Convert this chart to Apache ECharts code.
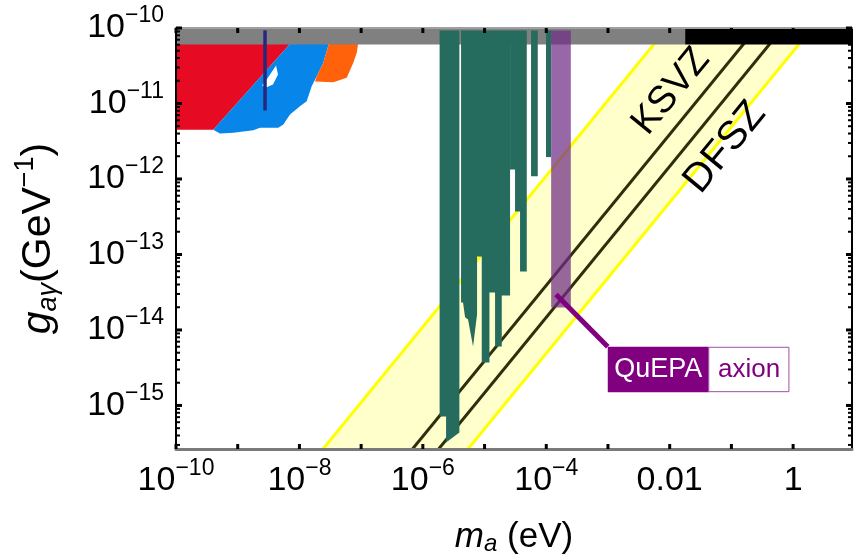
<!DOCTYPE html>
<html><head><meta charset="utf-8">
<script src="https://cdn.jsdelivr.net/npm/echarts@6/dist/echarts.min.js"></script>
<style>html,body{margin:0;padding:0;background:#fff}#c{width:856px;height:557px}</style>
</head><body><div id="c"></div>
<script>
// ---- axes (axion mass m_a in eV, coupling g_aγ in GeV^-1) ----
const xMin = 1e-10, xMax = 9;
const yMin = 2.65e-16, yMax = 1e-10;
const xTickValues = [1e-10,1e-9,1e-8,1e-7,1e-6,1e-5,1e-4,1e-3,1e-2,1e-1,1];
const xLabelValues = [1e-10,1e-8,1e-6,1e-4,1e-2,1];
const xLabelBase = ['10','10','10','10','0.01','1'];
const xLabelSup  = ['−10','−8','−6','−4','',''];
const yLabelValues = [1e-15,1e-14,1e-13,1e-12,1e-11,1e-10];
const yLabelSup = ['−15','−14','−13','−12','−11','−10'];
const yMinorTicks = [];
for (let e = -16; e <= -11; e++) for (let k = 2; k <= 9; k++) {
  const v = k * Math.pow(10, e); if (v > yMin && v < yMax) yMinorTicks.push(v);
}

// ---- excluded regions [m_a, g] ----
const redRegion = [[1e-10,6.5e-11],[7.5e-9,6.5e-11],[4.02e-10,4.5e-12],[1e-10,4.5e-12]];
const blueRegion = [[7.5e-9,6.5e-11],[3.05e-8,6.5e-11],[2.44e-8,3.46e-11],[1.91e-8,2.30e-11],[1.58e-8,1.69e-11],
  [1.31e-8,1.07e-11],[1.02e-8,9.21e-12],[7.04e-9,7.15e-12],[5.48e-9,5.27e-12],[4.55e-9,4.76e-12],
  [2.30e-9,4.76e-12],[1.79e-9,4.43e-12],[8.49e-10,4.09e-12],[5.16e-10,4.01e-12],[4.02e-10,4.5e-12]];
const blueHole = [[4.18e-9,3.19e-11],[4.50e-9,2.42e-11],[3.73e-9,1.79e-11],[2.88e-9,1.63e-11],[2.48e-9,1.73e-11],[3.10e-9,2.21e-11]];
const orangeRegion = [[3.05e-8,6.5e-11],[9.01e-8,6.5e-11],[8.49e-8,4.69e-11],[7.47e-8,3.46e-11],[5.84e-8,2.19e-11],
  [3.54e-8,1.91e-11],[1.79e-8,1.96e-11],[1.91e-8,2.30e-11],[2.44e-8,3.46e-11]];
const navyLine = [[2.77e-9,9.3e-11],[2.77e-9,8.07e-12]];
const grayBand = [[1e-10,6.05e-11],[0.0178,6.05e-11],[0.0178,1e-10],[1e-10,1e-10]];
const blackBand = [[0.0178,6.05e-11],[9,6.05e-11],[9,1e-10],[0.0178,1e-10]];
const haloA = [[1.87e-6,9.3e-11],[3.91e-6,9.3e-11],[3.91e-6,4.39e-16],[2.38e-6,3.24e-16],[2.38e-6,7.15e-16],[1.87e-6,7.15e-16]];
const haloB = [[4.16e-6,9.3e-11],[2.59e-5,9.3e-11],[2.59e-5,2.86e-14],[1.90e-5,2.86e-14],[1.90e-5,6.04e-15],[1.48e-5,6.04e-15],
  [1.48e-5,3.14e-14],[1.20e-5,3.14e-14],[1.20e-5,3.72e-15],[9.01e-6,3.72e-15],[9.01e-6,9.41e-14],[7.56e-6,9.41e-14],
  [7.56e-6,1.60e-14],[6.51e-6,6.04e-15],[5.40e-6,1.38e-14],[4.83e-6,1.47e-14],[4.48e-6,2.31e-14],[4.16e-6,2.31e-14]];
const haloC = [[2.59e-5,9.3e-11],[4.83e-5,9.3e-11],[4.83e-5,5.96e-14],[3.76e-5,5.96e-14],[3.76e-5,3.72e-13],
  [3.12e-5,3.72e-13],[3.12e-5,1.34e-12],[2.59e-5,1.34e-12]];
const haloD = [[5.67e-5,9.3e-11],[7.28e-5,9.3e-11],[7.28e-5,1.09e-12],[5.67e-5,1.09e-12]];
const haloE = [[9.9e-5,9.3e-11],[1.20e-4,9.3e-11],[1.20e-4,1.95e-12],[9.9e-5,1.95e-12]];
const quepaRegion = [[1.2e-4,9.3e-11],[2.5e-4,9.3e-11],[2.5e-4,1.99e-14],[1.2e-4,1.99e-14]];
const quepaLeader = [[1.44e-4,2.95e-14],[9.92e-4,5.99e-15]];
const quepaBoxX = [9.92e-4, 0.043, 0.871];
const quepaBoxY = [5.99e-15, 1.50e-15];

// ---- QCD axion band and model lines ----
const bandUpper = [[1e-10,1.1e-18],[10,1.1e-7]];
const bandLower = [[1e-10,4.9e-21],[10,4.9e-10]];
const ksvzLine = [[1e-10,3.9e-20],[10,3.9e-9]];
const dfszLine = [[1e-10,1.47e-20],[10,1.47e-9]];
const ksvzLabelAt = [0.01054, 1.44e-11];
const dfszLabelAt = [0.079, 2.61e-12];

const FONT = 'Liberation Sans';

function shapeSeries(pts, kind, style, z) {
  return {
    type: 'custom', coordinateSystem: 'cartesian2d', clip: true, silent: true, z: z,
    animation: false, data: [pts[0]],
    renderItem: function (params, api) {
      return { type: kind, shape: { points: pts.map(function (p) { return api.coord(p); }) }, style: style };
    }
  };
}
function textSeries(at, along, text, size, z) {
  return {
    type: 'custom', coordinateSystem: 'cartesian2d', clip: false, silent: true, z: z,
    animation: false, data: [at],
    renderItem: function (params, api) {
      const c = api.coord(at), a = api.coord(along[0]), b = api.coord(along[1]);
      const rot = -Math.atan2(b[1] - a[1], b[0] - a[0]);
      return { type: 'text', x: c[0], y: c[1], rotation: rot,
        style: { text: text, fontSize: size, fontFamily: FONT, fill: '#000', align: 'center', verticalAlign: 'middle' } };
    }
  };
}
function boxSeries(z) {
  return {
    type: 'custom', coordinateSystem: 'cartesian2d', clip: false, silent: true, z: z,
    animation: false, data: [[quepaBoxX[0], quepaBoxY[0]]],
    renderItem: function (params, api) {
      const a = api.coord([quepaBoxX[0], quepaBoxY[0]]);
      const b = api.coord([quepaBoxX[1], quepaBoxY[1]]);
      const c = api.coord([quepaBoxX[2], quepaBoxY[1]]);
      const h = b[1] - a[1];
      return { type: 'group', children: [
        { type: 'rect', shape: { x: a[0], y: a[1], width: b[0] - a[0], height: h }, style: { fill: '#800080' } },
        { type: 'rect', shape: { x: b[0], y: a[1] + 0.5, width: c[0] - b[0] - 0.5, height: h - 1 }, style: { fill: '#fff', stroke: '#a050a8', lineWidth: 1 } },
        { type: 'text', x: (a[0] + b[0]) / 2, y: a[1] + h / 2, style: { text: 'QuEPA', fill: '#fff', fontSize: 27, fontFamily: FONT, align: 'center', verticalAlign: 'middle' } },
        { type: 'text', x: (b[0] + c[0]) / 2, y: a[1] + h / 2, style: { text: 'axion', fill: '#800080', fontSize: 26, fontFamily: FONT, align: 'center', verticalAlign: 'middle' } }
      ] };
    }
  };
}
// frame ticks, placed through the axes' own scales
function tickSeries(z) {
  return {
    type: 'custom', coordinateSystem: 'cartesian2d', clip: false, silent: true, z: z,
    animation: false, data: [[xMin, yMin]],
    renderItem: function (params, api) {
      const lo = api.coord([xMin, yMin]), hi = api.coord([xMax, yMax]);
      const kids = [];
      function seg(x1, y1, x2, y2, w) {
        kids.push({ type: 'line', shape: { x1: x1, y1: y1, x2: x2, y2: y2 }, style: { stroke: '#000', lineWidth: w } });
      }
      yLabelValues.forEach(function (v) {
        const y = api.coord([xMin, v])[1];
        seg(lo[0], y, lo[0] + 6, y, 3); seg(hi[0], y, hi[0] - 6, y, 3);
      });
      yMinorTicks.forEach(function (v) {
        const y = api.coord([xMin, v])[1];
        seg(lo[0], y, lo[0] + 4, y, 2); seg(hi[0], y, hi[0] - 4, y, 2);
      });
      xTickValues.forEach(function (v) {
        const x = api.coord([v, yMin])[0];
        seg(x, lo[1], x, lo[1] - 5, 3); seg(x, hi[1], x, hi[1] + 5, 3);
      });
      return { type: 'group', children: kids };
    }
  };
}

function idxOf(vals, v) {
  let best = 0, d = Infinity;
  vals.forEach(function (w, i) { const dd = Math.abs(Math.log10(w) - Math.log10(v)); if (dd < d) { d = dd; best = i; } });
  return best;
}
const richTick = {
  b: { fontSize: 34, fontFamily: FONT, color: '#000', lineHeight: 35 },
  s: { fontSize: 23, fontFamily: FONT, color: '#000', lineHeight: 23, padding: [0, 0, 24, 0], verticalAlign: 'middle' }
};

const chart = echarts.init(document.getElementById('c'), null, { renderer: 'canvas' });

chart.setOption({
  animation: false,
  backgroundColor: '#fff',
  grid: { left: 176, right: 4, top: 28, bottom: 108, containLabel: false, outerBoundsMode: 'none' },
  xAxis: [
    { type: 'log', logBase: 10, min: xMin, max: xMax, position: 'bottom', z: 10,
      axisLine: { show: true, lineStyle: { color: '#7a7a7a', width: 3 } },
      axisTick: { show: false }, splitLine: { show: false }, minorTick: { show: false },
      axisLabel: { customValues: xLabelValues, margin: 14, rich: richTick,
        formatter: function (v) { const i = idxOf(xLabelValues, v); return '{b|' + xLabelBase[i] + '}' + (xLabelSup[i] ? '{s|' + xLabelSup[i] + '}' : ''); } },
      name: '{i|m}{sub|a}{n| (eV)}', nameLocation: 'middle', nameGap: 70,
      nameTextStyle: { rich: {
        i: { fontSize: 35, fontFamily: FONT, fontStyle: 'italic', color: '#000', lineHeight: 36 },
        sub: { fontSize: 24, fontFamily: FONT, fontStyle: 'italic', color: '#000', lineHeight: 24, padding: [14, 0, 0, 0], verticalAlign: 'middle' },
        n: { fontSize: 35, fontFamily: FONT, color: '#000', lineHeight: 36 } } }
    },
    { type: 'log', logBase: 10, min: xMin, max: xMax, position: 'top', z: 10,
      axisLine: { show: true, lineStyle: { color: '#a0a0a0', width: 2 } },
      axisTick: { show: false }, axisLabel: { show: false }, splitLine: { show: false } }
  ],
  yAxis: [
    { type: 'log', logBase: 10, min: yMin, max: yMax, position: 'left', z: 10,
      axisLine: { show: true, lineStyle: { color: '#000', width: 2 } },
      axisTick: { show: false }, splitLine: { show: false },
      axisLabel: { customValues: yLabelValues, margin: 12, rich: richTick,
        formatter: function (v) { const i = idxOf(yLabelValues, v); return '{b|10}{s|' + yLabelSup[i] + '}'; } },
      name: '{g|g}{sub|aγ}{n|(GeV}{sup|−1}{n|)}', nameLocation: 'middle', nameGap: 116, nameRotate: 90,
      nameTextStyle: { rich: {
        g: { fontSize: 41, fontFamily: FONT, fontStyle: 'italic', color: '#000', lineHeight: 42 },
        sub: { fontSize: 27, fontFamily: FONT, fontStyle: 'italic', color: '#000', lineHeight: 27, padding: [18, 0, 0, 0], verticalAlign: 'middle' },
        sup: { fontSize: 27, fontFamily: FONT, color: '#000', lineHeight: 27, padding: [0, 0, 26, 0], verticalAlign: 'middle' },
        n: { fontSize: 41, fontFamily: FONT, color: '#000', lineHeight: 42 } } }
    },
    { type: 'log', logBase: 10, min: yMin, max: yMax, position: 'right', z: 10,
      axisLine: { show: true, lineStyle: { color: '#000', width: 2 } },
      axisTick: { show: false }, axisLabel: { show: false }, splitLine: { show: false } }
  ],
  series: [
    shapeSeries([bandUpper[0], bandUpper[1], bandLower[1], bandLower[0]], 'polygon', { fill: '#ffffcc' }, 1),
    shapeSeries(bandUpper, 'polyline', { stroke: '#ffff00', lineWidth: 3, fill: null }, 2),
    shapeSeries(bandLower, 'polyline', { stroke: '#ffff00', lineWidth: 3, fill: null }, 2),
    shapeSeries(ksvzLine, 'polyline', { stroke: '#2e2e0c', lineWidth: 3, fill: null }, 2),
    shapeSeries(dfszLine, 'polyline', { stroke: '#2e2e0c', lineWidth: 3, fill: null }, 2),
    shapeSeries(redRegion, 'polygon', { fill: '#e60a22' }, 3),
    shapeSeries(blueRegion, 'polygon', { fill: '#0785e8' }, 3),
    shapeSeries(orangeRegion, 'polygon', { fill: '#ff620a' }, 3),
    shapeSeries(blueHole, 'polygon', { fill: '#ffffff' }, 3),
    shapeSeries(grayBand, 'polygon', { fill: '#808080' }, 4),
    shapeSeries(blackBand, 'polygon', { fill: '#000000' }, 4),
    shapeSeries(haloA, 'polygon', { fill: '#256b5e' }, 5),
    shapeSeries(haloB, 'polygon', { fill: '#256b5e' }, 5),
    shapeSeries(haloC, 'polygon', { fill: '#256b5e' }, 5),
    shapeSeries(haloD, 'polygon', { fill: '#256b5e' }, 5),
    shapeSeries(haloE, 'polygon', { fill: '#256b5e' }, 5),
    shapeSeries(navyLine, 'polyline', { stroke: '#27277d', lineWidth: 3.5, fill: null }, 6),
    shapeSeries(quepaRegion, 'polygon', { fill: 'rgba(112,45,135,0.72)' }, 6),
    shapeSeries(quepaLeader, 'polyline', { stroke: '#800080', lineWidth: 5, fill: null }, 7),
    boxSeries(8),
    textSeries(ksvzLabelAt, ksvzLine, 'KSVZ', 38, 8),
    textSeries(dfszLabelAt, dfszLine, 'DFSZ', 40, 8),
    tickSeries(20)
  ]
});
</script></body></html>
